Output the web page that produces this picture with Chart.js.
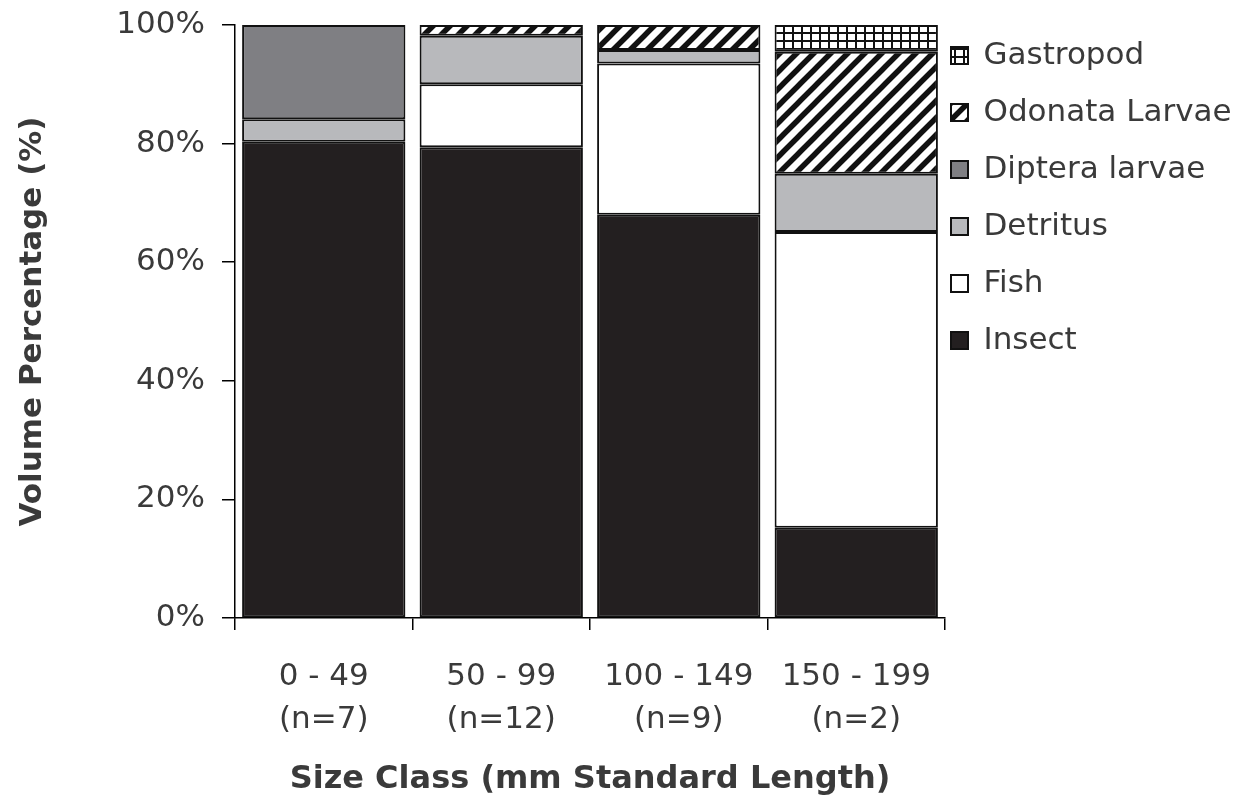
<!DOCTYPE html>
<html>
<head>
<meta charset="utf-8">
<script src="https://cdn.jsdelivr.net/npm/chart.js@4"></script>
<style>
    html, body { margin: 0; padding: 0; background: #fff; }
</style>
</head>
<body>
<canvas id="dietChart" width="1247" height="802"></canvas>
<script>
// Size classes and sample sizes (x axis)
const sizeClasses = ['0 - 49', '50 - 99', '100 - 149', '150 - 199'];
const sampleSizes = [7, 12, 9, 2];

// Volume percentage per prey item, bottom to top of each stack
const insect    = [80.3, 79.4, 68.0, 15.2];
const fish      = [0, 10.6, 25.5, 49.9];
const detritus  = [3.8, 8.2, 2.3, 9.8];
const diptera   = [15.9, 0, 0, 0];
const odonata   = [0, 1.8, 4.2, 20.6];
const gastropod = [0, 0, 0, 4.5];

const yTickStep = 20;

const FONT = 'DejaVu Sans';
const TEXT = '#3a3a3a';

// Hatch patterns for Odonata / Gastropod
function stripePattern() {
    const s = 17;
    const c = document.createElement('canvas');
    c.width = s; c.height = s;
    const g = c.getContext('2d');
    g.fillStyle = '#fff';
    g.fillRect(0, 0, s, s);
    g.strokeStyle = '#111';
    g.lineWidth = 5.5;
    g.beginPath();
    // lines run past the tile edges so the stripes join up without gaps
    for (const k of [-s, 0, s]) {
        g.moveTo(k - s, 2 * s);
        g.lineTo(k + 2 * s, -s);
    }
    g.stroke();
    return g.createPattern(c, 'repeat');
}

function gridPattern() {
    const w = 9, h = 8;
    const c = document.createElement('canvas');
    c.width = w; c.height = h;
    const g = c.getContext('2d');
    g.fillStyle = '#fff';
    g.fillRect(0, 0, w, h);
    g.fillStyle = '#111';
    g.fillRect(0, 0, w, 2);
    g.fillRect(0, 0, 2, h);
    return g.createPattern(c, 'repeat');
}

const labels = sizeClasses.map((s, i) => [s, '(n=' + sampleSizes[i] + ')']);

const barStyle = {
    borderColor: '#111',
    borderWidth: 2,
    borderSkipped: false,
    barPercentage: 0.92,
    categoryPercentage: 1.0
};

// pull the legend items closer to the plot (left edge only, so text isn't clipped)
const legendShift = {
    id: 'legendShift',
    afterLayout(chart) {
        chart.legend.left -= 20;
    }
};

const ctx = document.getElementById('dietChart').getContext('2d');
new Chart(ctx, {
    type: 'bar',
    data: {
        labels: labels,
        datasets: [
            { label: 'Insect', data: insect, backgroundColor: '#231f20', ...barStyle },
            { label: 'Fish', data: fish, backgroundColor: '#ffffff', ...barStyle },
            { label: 'Detritus', data: detritus, backgroundColor: '#b8b9bc', ...barStyle },
            { label: 'Diptera larvae', data: diptera, backgroundColor: '#7f7f83', ...barStyle },
            { label: 'Odonata Larvae', data: odonata, backgroundColor: stripePattern(), ...barStyle },
            { label: 'Gastropod', data: gastropod, backgroundColor: gridPattern(), ...barStyle }
        ]
    },
    options: {
        responsive: false,
        animation: false,
        layout: {
            padding: { top: 14, right: 0, bottom: 0, left: 0 }
        },
        plugins: {
            legend: {
                position: 'right',
                align: 'start',
                reverse: true,
                maxWidth: 302,
                labels: {
                    boxWidth: 17,
                    boxHeight: 17,
                    padding: 26,
                    color: TEXT,
                    font: { family: FONT, size: 31 }
                }
            },
            tooltip: { enabled: false }
        },
        scales: {
            x: {
                stacked: true,
                border: { color: '#000', width: 1.5 },
                grid: {
                    offset: true,
                    drawOnChartArea: false,
                    color: '#000',
                    lineWidth: 1.5,
                    tickLength: 12
                },
                ticks: {
                    padding: 25,
                    color: TEXT,
                    font: { family: FONT, size: 31, lineHeight: 1.4 }
                },
                title: {
                    display: true,
                    text: 'Size Class (mm Standard Length)',
                    color: TEXT,
                    font: { family: FONT, size: 32, weight: 'bold' },
                    padding: { top: 0, bottom: 3 }
                },
                afterFit(scale) {
                    scale.height = 184;
                }
            },
            y: {
                stacked: true,
                min: 0,
                max: 100,
                border: { color: '#000', width: 1.5 },
                grid: {
                    drawOnChartArea: false,
                    color: '#000',
                    lineWidth: 1.5,
                    tickLength: 13
                },
                ticks: {
                    stepSize: yTickStep,
                    padding: 17,
                    color: TEXT,
                    font: { family: FONT, size: 31 },
                    callback: function(value) {
                        return value + '%';
                    }
                },
                title: {
                    display: true,
                    text: 'Volume Percentage (%)',
                    color: TEXT,
                    font: { family: FONT, size: 31, weight: 'bold' },
                    padding: { top: 14, bottom: 0 }
                },
                afterFit(scale) {
                    scale.width = 235;
                    scale.paddingTop = 25;
                }
            }
        }
    },
    plugins: [legendShift]
});
</script>
</body>
</html>
